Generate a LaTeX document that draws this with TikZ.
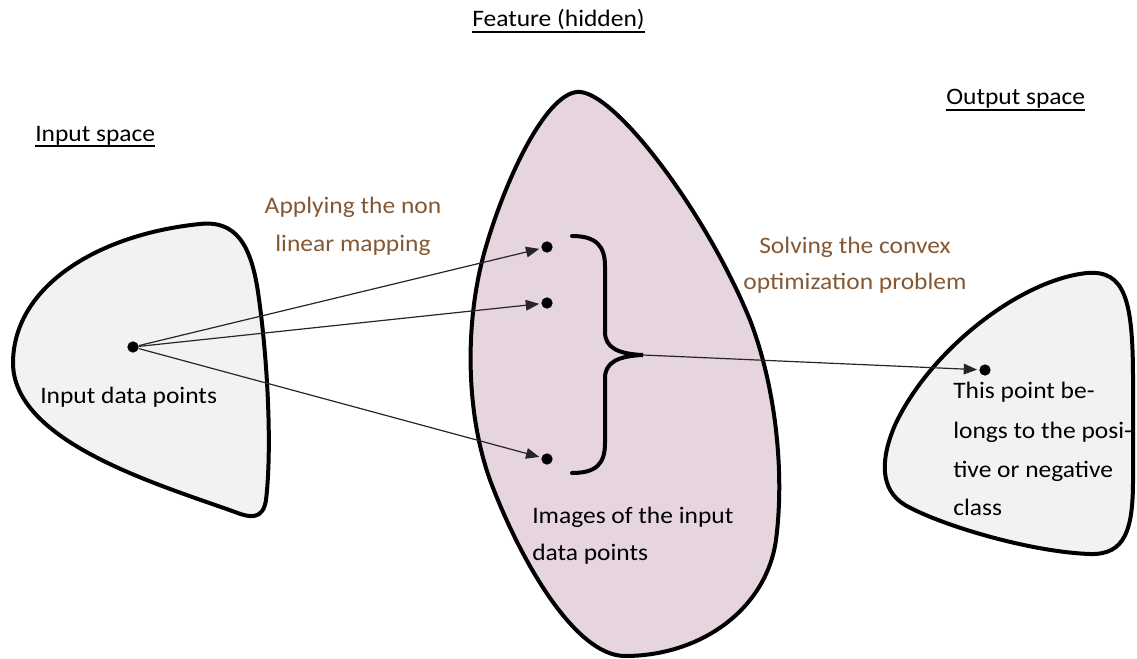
\documentclass[tikz,border=0pt]{standalone}
\usepackage{fontspec}
\setmainfont{Carlito}[FakeStretch=1.08]
\usetikzlibrary{arrows.meta}
\definecolor{brownlabel}{RGB}{133,88,52}
\definecolor{featurefill}{RGB}{230,212,222}
\definecolor{spacefill}{RGB}{242,242,242}
\begin{document}
\begin{tikzpicture}[x=0.75pt,y=-0.75pt,
  blob/.style={draw=black, line width=3pt, line join=round},
  dot/.style={circle, fill=black, inner sep=0pt, minimum size=8.5pt},
  maparrow/.style={draw=black!85, line width=0.9pt, -{Triangle[length=10pt,width=8pt]}, shorten >=1.5pt},
  lbl/.style={font=\fontsize{17.7}{20}\selectfont, inner sep=0pt, anchor=base west},
  note/.style={lbl, text=brownlabel},
  uline/.style={line width=1.4pt},
]
\useasboundingbox (0,0) rectangle (1137,659);

% input space
\draw[blob, fill=spacefill] (13,362)
  .. controls (14,285) and (100,234) .. (200,224)
  .. controls (236,220) and (251,245) .. (258,292)
  .. controls (268,360) and (272,450) .. (266,500)
  .. controls (263,520) and (250,518) .. (235,512)
  .. controls (160,485) and (12,442) .. (13,362) -- cycle;

% feature space
\draw[blob, fill=featurefill] (577,92)
  .. controls (612,88) and (705,210) .. (750,320)
  .. controls (775,385) and (785,470) .. (776,540)
  .. controls (766,610) and (700,656) .. (625,656)
  .. controls (575,656) and (520,560) .. (490,480)
  .. controls (465,410) and (465,320) .. (485,250)
  .. controls (505,180) and (545,95) .. (577,92) -- cycle;

% output space
\draw[blob, fill=spacefill] (1087,273)
  .. controls (1125,270) and (1133,300) .. (1133,380)
  -- (1133,480)
  .. controls (1133,530) and (1125,555) .. (1090,554)
  .. controls (1030,552) and (940,525) .. (905,505)
  .. controls (880,490) and (880,460) .. (895,425)
  .. controls (930,350) and (1020,280) .. (1087,273) -- cycle;

% points
\node[dot] (in)  at (133,347) {};
\node[dot] (f1)  at (547,247) {};
\node[dot] (f2)  at (547,303) {};
\node[dot] (f3)  at (547,459) {};
\node[dot] (out) at (985,370) {};

% brace grouping the images
\draw[line width=3pt, line cap=round] (572,236)
  .. controls (596,236) and (605,246) .. (605,266) -- (605,332)
  .. controls (605,347) and (617,354) .. (643,355)
  .. controls (617,356) and (605,363) .. (605,378) -- (605,443)
  .. controls (605,464) and (596,473) .. (572,473);
\coordinate (btip) at (643,355);

% mappings
\draw[maparrow] (in) -- (f1);
\draw[maparrow] (in) -- (f2);
\draw[maparrow] (in) -- (f3);
\draw[maparrow] (btip) -- (out);

% headings
\node[lbl] (hfeat) at (472,27) {Feature (hidden)};
\draw[uline] ([yshift=-3.5pt]hfeat.base west) -- ([yshift=-3.5pt]hfeat.base east);
\node[lbl] (hin) at (35,142) {Input space};
\draw[uline] ([yshift=-3pt]hin.base west) -- ([yshift=-3pt]hin.base east);
\node[lbl] (hout) at (946,105) {Output space};
\draw[uline] ([yshift=-3.5pt]hout.base west) -- ([yshift=-3.5pt]hout.base east);

% step labels
\node[note, anchor=base] (m1) at (353,214) {Applying the non};
\node[note, anchor=base] (m2) at (353,251) {linear mapping};
\node[note, anchor=base] (s1) at (855,253) {Solving the convex};
\node[note, anchor=base] (s2) at (855,289) {optimization problem};

% point labels
\node[lbl] (pin) at (40,403) {Input data points};
\node[lbl] (pf1) at (532,523) {Images of the input};
\node[lbl] (pf2) at (532,560) {data points};
\node[lbl] (po1) at (953,398) {This point be-};
\node[lbl] (po2) at (953,438) {longs to the posi-};
\node[lbl] (po3) at (953,477) {tive or negative};
\node[lbl] (po4) at (953,515) {class};
\end{tikzpicture}
\end{document}
